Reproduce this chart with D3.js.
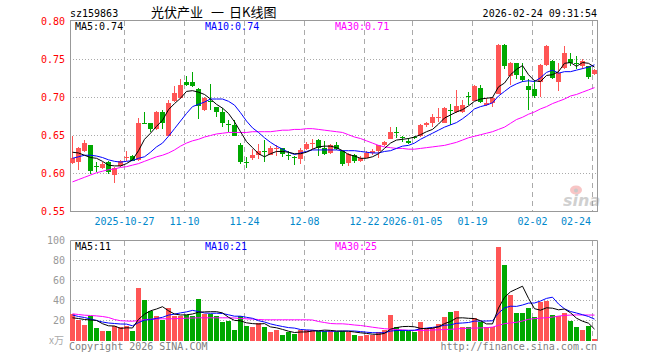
<!DOCTYPE html>
<html>
<head>
<meta charset="utf-8">
<script src="https://cdn.jsdelivr.net/npm/d3@7"></script>
<style>
  body { margin: 0; background: #fff; }
  svg text { font-family: "DejaVu Sans Mono", monospace; font-size: 10px; }
</style>
</head>
<body>
<script>
// trading days shown
const dates = [
  "2025-10-14","2025-10-15","2025-10-16","2025-10-17","2025-10-20","2025-10-21","2025-10-22","2025-10-23","2025-10-24","2025-10-27",
  "2025-10-28","2025-10-29","2025-10-30","2025-10-31","2025-11-03","2025-11-04","2025-11-05","2025-11-06","2025-11-07","2025-11-10",
  "2025-11-11","2025-11-12","2025-11-13","2025-11-14","2025-11-17","2025-11-18","2025-11-19","2025-11-20","2025-11-21","2025-11-24",
  "2025-11-25","2025-11-26","2025-11-27","2025-11-28","2025-12-01","2025-12-02","2025-12-03","2025-12-04","2025-12-05","2025-12-08",
  "2025-12-09","2025-12-10","2025-12-11","2025-12-12","2025-12-15","2025-12-16","2025-12-17","2025-12-18","2025-12-19","2025-12-22",
  "2025-12-23","2025-12-24","2025-12-25","2025-12-26","2025-12-29","2025-12-30","2025-12-31","2026-01-05","2026-01-06","2026-01-07",
  "2026-01-08","2026-01-09","2026-01-12","2026-01-13","2026-01-14","2026-01-15","2026-01-16","2026-01-19","2026-01-20","2026-01-21",
  "2026-01-22","2026-01-23","2026-01-26","2026-01-27","2026-01-28","2026-01-29","2026-01-30","2026-02-02","2026-02-03","2026-02-04",
  "2026-02-05","2026-02-06","2026-02-09","2026-02-10","2026-02-11","2026-02-12","2026-02-13","2026-02-24"
];

const opens = [
  .614,.615,.629,.637,.610,.607,.615,.598,.610,.621,
  .623,.618,.667,.666,.658,.681,.650,.695,.699,.721,
  .721,.711,.683,.695,.687,.681,.665,.664,.637,.615,
  .620,.624,.630,.625,.632,.633,.624,.622,.619,.632,
  .639,.644,.634,.627,.637,.629,.614,.625,.617,.621,
  .627,.629,.637,.646,.655,.648,.643,.648,.649,.664,
  .666,.673,.667,.683,.681,.681,.702,.696,.713,.690,
  .693,.705,.769,.728,.745,.728,.715,.711,.721,.743,
  .748,.721,.739,.751,.746,.741,.741,.731
];
const highs = [
  .650,.635,.644,.638,.615,.615,.616,.608,.618,.629,
  .625,.673,.681,.667,.682,.684,.697,.715,.724,.728,
  .733,.712,.701,.718,.688,.686,.671,.670,.640,.622,
  .632,.639,.644,.636,.637,.634,.629,.623,.633,.642,
  .646,.645,.643,.639,.641,.630,.627,.626,.623,.630,
  .632,.638,.643,.661,.661,.649,.647,.650,.665,.668,
  .678,.686,.688,.692,.710,.697,.707,.716,.716,.699,
  .701,.771,.771,.747,.746,.745,.724,.723,.744,.769,
  .750,.745,.768,.758,.754,.751,.742,.737
];
const lows = [
  .613,.604,.628,.600,.602,.606,.599,.588,.609,.617,
  .616,.617,.665,.655,.657,.658,.649,.694,.698,.715,
  .714,.672,.682,.683,.675,.661,.655,.649,.613,.607,
  .618,.619,.615,.624,.623,.622,.618,.611,.613,.631,
  .632,.623,.625,.626,.631,.610,.610,.614,.615,.620,
  .625,.620,.636,.645,.647,.642,.639,.645,.648,.661,
  .661,.668,.666,.664,.680,.680,.690,.695,.693,.689,
  .688,.704,.737,.716,.725,.721,.683,.699,.701,.742,
  .725,.708,.738,.741,.738,.737,.725,.729
];
const closes = [
  .620,.634,.640,.603,.609,.613,.602,.607,.617,.622,
  .617,.667,.666,.658,.681,.666,.693,.706,.716,.716,
  .715,.689,.700,.694,.681,.667,.664,.650,.615,.614,
  .625,.629,.629,.634,.633,.626,.623,.620,.631,.639,
  .640,.633,.626,.637,.632,.613,.626,.617,.621,.627,
  .630,.637,.642,.655,.654,.647,.640,.647,.664,.666,
  .675,.674,.686,.682,.689,.690,.701,.715,.694,.693,
  .699,.769,.741,.746,.729,.723,.710,.702,.743,.768,
  .726,.732,.758,.745,.745,.748,.727,.736
];
// volume, 万手
const volumes = [
  26.7,20.7,16,25,12.3,10,10,15,13.3,15,
  9.3,53,41,30,24.3,20.7,32.3,25,25,25.7,
  24.3,41.3,26.7,26.7,25,18.3,19.3,11,25,15,
  14,17.3,13.3,8.3,10.7,6,8.3,6.7,11,11,
  10.7,9.3,10,9.3,8.3,10,9,6,5,5.7,
  5.7,8.3,10.7,26,14,10.7,9.3,8.3,18.3,12.7,
  12.7,16.7,24,29,30,14,14,22.7,18.3,14,
  14,93.3,76,46,28,28,33,24,38.3,40,
  26,25,28,19.3,13.3,11,15,1.3
];

const ma5 = [
  .628,.627,.624,.621,.620,.616,.611,.610,.610,.613,
  .618,.630,.645,.653,.662,.670,.684,.692,.699,.708,
  .709,.707,.704,.698,.691,.686,.679,.668,.655,.642,
  .634,.626,.622,.626,.629,.629,.628,.626,.626,.628,
  .632,.635,.636,.636,.634,.630,.625,.623,.620,.620,
  .622,.626,.633,.640,.644,.645,.646,.648,.651,.655,
  .658,.665,.673,.677,.681,.684,.689,.695,.698,.699,
  .700,.714,.719,.730,.737,.742,.730,.722,.721,.729,
  .730,.734,.745,.746,.741,.746,.745,.740
];
const ma10 = [
  .620,.622,.624,.624,.623,.621,.618,.616,.615,.616,
  .617,.620,.622,.628,.635,.640,.649,.659,.669,.679,
  .688,.691,.694,.698,.698,.698,.695,.690,.680,.669,
  .660,.654,.647,.641,.636,.632,.628,.625,.627,.629,
  .631,.631,.631,.631,.631,.630,.630,.630,.629,.628,
  .627,.627,.629,.630,.633,.636,.637,.640,.645,.649,
  .653,.657,.661,.664,.667,.672,.678,.685,.688,.690,
  .693,.702,.708,.714,.718,.721,.722,.721,.726,.733,
  .736,.732,.734,.734,.736,.738,.740,.743
];
const ma30 = [
  .589,.592,.595,.598,.601,.603,.605,.606,.608,.609,
  .611,.613,.616,.619,.622,.624,.627,.631,.636,.640,
  .643,.645,.648,.650,.652,.653,.654,.654,.654,.654,
  .655,.655,.655,.655,.656,.657,.657,.658,.658,.659,
  .659,.658,.657,.656,.655,.654,.651,.648,.646,.643,
  .640,.637,.635,.634,.633,.633,.632,.632,.633,.634,
  .635,.636,.637,.639,.641,.644,.647,.649,.651,.653,
  .655,.658,.661,.666,.671,.674,.678,.681,.685,.688,
  .692,.695,.698,.702,.704,.707,.710,.713
];
const vma5 = [
  22.7,22,21,20.5,20.1,16.8,14.7,14.5,12.1,12.7,
  12.5,21.1,26.3,29.7,31.5,33.8,29.7,26.5,25.5,25.7,
  26.5,28.3,28.6,28.8,28.8,27.6,23.2,20.1,19.7,17.7,
  16.9,16.5,16.9,13.6,12.7,11.1,9.3,8,8.5,8.6,
  9.5,9.7,10.4,10.1,9.5,9.4,9.3,8.5,7.7,7.1,
  6.3,6.1,7.1,11.3,12.9,13.9,14.1,13.7,12.1,11.9,
  12.3,13.7,16.9,19,22.5,22.7,22.2,21.9,19.8,16.6,
  16.6,32.5,43.1,48.7,51.5,54.3,42.2,31.8,30.3,32.7,
  32.3,30.7,31.5,27.7,22.3,19.3,17.3,11.4
];
const vma10 = [
  25.5,24,23,21.5,20,18.5,17.5,17,16.5,16.4,
  14.7,17.9,20.4,20.9,22.1,23.2,25.4,26.4,27.6,28.6,
  30.1,29,27.5,27.2,27.3,27,25.7,24.3,24.3,23.2,
  22.2,19.8,18.5,16.6,15.2,14,12.9,12.4,11,10.6,
  10.3,9.5,9.2,9.3,9.1,9.5,9.5,9.5,8.9,8.3,
  7.8,7.7,7.8,9.4,10,10.1,10.1,10.3,11.7,12.4,
  13.1,13.9,15.3,15.6,17.2,17.5,18,19.4,19.4,19.5,
  19.7,27.4,32.6,34.3,34.1,35.5,37.4,37.5,39.5,42.1,
  43.3,36.5,31.7,29,27.5,25.8,24,21.4
];
const vma30 = [
  26.7,26,25.3,25,24.6,24,23,21,19.8,19.5,
  19.3,20,20.8,21.3,21.6,21.7,21.7,21.8,22,22.3,
  22.5,22.7,22.7,22.7,22.7,22.7,22.7,22.5,22,21.7,
  21.4,21,20.7,20.7,20.7,20.7,20.7,20.7,20.7,20.7,
  20.5,19,18,17,16.7,16.7,16.2,15.5,15,14.2,
  13.3,12.5,11.8,11.4,11,10.6,10.2,10,10,10.2,
  10.5,10.7,11,11.2,11.6,12,12.3,12.4,12.6,12.8,
  13.4,15.2,16.8,17.6,18.2,19.5,21.2,21.9,22.4,22.8,
  23.4,24.4,25.1,25.4,25.6,25.5,25.5,25.4
];

const priceTicks = [0.55, 0.60, 0.65, 0.70, 0.75, 0.80];
const volTicks = [20, 40, 60, 80, 100];
const tickDates = ["2025-10-27","2025-11-10","2025-11-24","2025-12-08","2025-12-22","2026-01-05","2026-01-19","2026-02-02","2026-02-24"];
const tickLabels = ["2025-10-27","11-10","11-24","12-08","12-22","2026-01-05","01-19","02-02","02-24"];

let w = 660;
let h = 360;
const up = "#ff5555", down = "#00a800";
const gridColor = "#aaaaaa", frameColor = "#999999";

let svg = d3.select("body").append("svg")
            .attr("width", w)
            .attr("height", h)
            .style("background", "#fff");

let x = d3.scaleBand(dates, [70, 598]);
let y = d3.scaleLinear([0.55, 0.80], [211.5, 21.5]);
let yv = d3.scaleLinear([0, 100], [340.5, 240.5]);
const cx = d => x(d) + 2.5;

// header
svg.append("text").text("sz159863").attr("x", 70).attr("y", 17);
[["光伏产业", 151], ["一", 211], ["日K线图", 229]].forEach(([t, tx]) => {
  svg.append("text").text(t).attr("x", tx).attr("y", 17)
     .style("font-family", "'Noto Sans CJK SC', sans-serif").style("font-size", "13px");
});
svg.append("text").text("2026-02-24 09:31:54").attr("x", 597).attr("y", 17).attr("text-anchor", "end");

// grid
let grid = svg.append("g");
grid.selectAll(".hp").data(priceTicks.slice(1, -1)).enter().append("line")
    .attr("x1", 70).attr("x2", 597).attr("y1", d => y(d)).attr("y2", d => y(d))
    .attr("stroke", gridColor).attr("stroke-dasharray", "1,2");
grid.selectAll(".hv").data(volTicks.slice(0, -1)).enter().append("line")
    .attr("x1", 70).attr("x2", 597).attr("y1", d => yv(d)).attr("y2", d => yv(d))
    .attr("stroke", gridColor).attr("stroke-dasharray", "1,2");
[[21, 211], [241, 340]].forEach(([a, b]) => {
  grid.append("g").selectAll("line").data(tickDates).enter().append("line")
      .attr("x1", d => x(d) + 0.5).attr("x2", d => x(d) + 0.5)
      .attr("y1", a).attr("y2", b)
      .attr("stroke", gridColor).attr("stroke-dasharray", "5,4");
});

// frames
svg.append("rect").attr("x", 70.5).attr("y", 20.5).attr("width", 527).attr("height", 191)
   .attr("fill", "none").attr("stroke", frameColor);
svg.append("path").attr("d", "M70.5,341V240.5H597.5V341")
   .attr("fill", "none").attr("stroke", frameColor);

// watermark
let logo = svg.append("g").attr("opacity", 0.45);
logo.append("ellipse").attr("cx", 576).attr("cy", 190).attr("rx", 6).attr("ry", 4.5).attr("fill", "#f08080");
logo.append("circle").attr("cx", 576).attr("cy", 190.5).attr("r", 2).attr("fill", "#888");
logo.append("text").text("sina").attr("x", 563).attr("y", 206)
    .style("font-family", "'DejaVu Sans', sans-serif").style("font-size", "16px")
    .style("font-style", "italic").style("font-weight", "bold").attr("fill", "#999");

// candles
let candles = svg.append("g").selectAll("g").data(dates).enter().append("g")
                 .attr("fill", (d, i) => closes[i] >= opens[i] ? up : down)
                 .attr("shape-rendering", "crispEdges");
candles.append("rect")
       .attr("x", d => x(d) + 2).attr("width", 1)
       .attr("y", (d, i) => y(highs[i]))
       .attr("height", (d, i) => Math.max(1, y(lows[i]) - y(highs[i])));
candles.append("rect")
       .attr("x", d => x(d)).attr("width", 5)
       .attr("y", (d, i) => y(Math.max(opens[i], closes[i])))
       .attr("height", (d, i) => Math.max(1, Math.abs(y(opens[i]) - y(closes[i]))));

// volume bars
svg.append("g").attr("shape-rendering", "crispEdges")
   .selectAll("rect").data(dates).enter().append("rect")
   .attr("x", d => x(d)).attr("width", 5)
   .attr("y", (d, i) => yv(volumes[i]))
   .attr("height", (d, i) => 341 - yv(volumes[i]))
   .attr("fill", (d, i) => closes[i] >= opens[i] ? up : down);

// moving averages
const drawLine = (vals, scale, color) => {
  svg.append("path")
     .datum(vals)
     .attr("d", d3.line().x((v, i) => cx(dates[i])).y(v => scale(v)))
     .attr("fill", "none").attr("stroke", color).attr("stroke-width", 1);
};
drawLine(ma30, y, "#ff00ff");
drawLine(ma10, y, "#0000ff");
drawLine(ma5, y, "#000000");
drawLine(vma30, yv, "#ff00ff");
drawLine(vma10, yv, "#0000ff");
drawLine(vma5, yv, "#000000");

// axes
let priceAxis = d3.axisLeft(y).tickValues(priceTicks).tickSize(0).tickPadding(5).tickFormat(d3.format(".2f"));
svg.append("g").attr("transform", "translate(70,0)").call(priceAxis)
   .call(g => g.select(".domain").remove())
   .call(g => g.selectAll("text").attr("fill", "#ff0000").attr("font-family", null).attr("font-size", null));
let volAxis = d3.axisLeft(yv).tickValues(volTicks).tickSize(0).tickPadding(5);
svg.append("g").attr("transform", "translate(70,0)").call(volAxis)
   .call(g => g.select(".domain").remove())
   .call(g => g.selectAll("text").attr("fill", "#999999").attr("font-family", null).attr("font-size", null));

svg.append("g").selectAll("text").data(tickDates).enter().append("text")
   .text((d, i) => tickLabels[i])
   .attr("x", (d, i) => i === tickDates.length - 1 ? 591 : x(d) + 0.5)
   .attr("y", 225)
   .attr("text-anchor", (d, i) => i === tickDates.length - 1 ? "end" : "middle")
   .attr("fill", "#0088cc");

// MA legends
const last = a => a[a.length - 1];
const legend = (items, ty) => items.forEach(([label, color, lx]) => {
  svg.append("text").text(label).attr("x", lx).attr("y", ty).attr("fill", color);
});
legend([["MA5:" + d3.format(".2f")(last(ma5)), "#000", 75],
        ["MA10:" + d3.format(".2f")(last(ma10)), "#0000ff", 205],
        ["MA30:" + d3.format(".2f")(last(ma30)), "#ff00ff", 335]], 30);
legend([["MA5:" + d3.format(".0f")(last(vma5)), "#000", 75],
        ["MA10:" + d3.format(".0f")(last(vma10)), "#0000ff", 205],
        ["MA30:" + d3.format(".0f")(last(vma30)), "#ff00ff", 335]], 250);

// footer
svg.append("text").text("x万").attr("x", 64).attr("y", 344).attr("text-anchor", "end")
   .attr("fill", "#aaaaaa").style("font-family", "'Noto Sans CJK SC', sans-serif").style("font-size", "10px");
svg.append("text").text("Copyright 2026 SINA.COM").attr("x", 69).attr("y", 350).attr("fill", "#808080");
svg.append("text").text("http://finance.sina.com.cn").attr("x", 597).attr("y", 350)
   .attr("text-anchor", "end").attr("fill", "#808080");
</script>
</body>
</html>
